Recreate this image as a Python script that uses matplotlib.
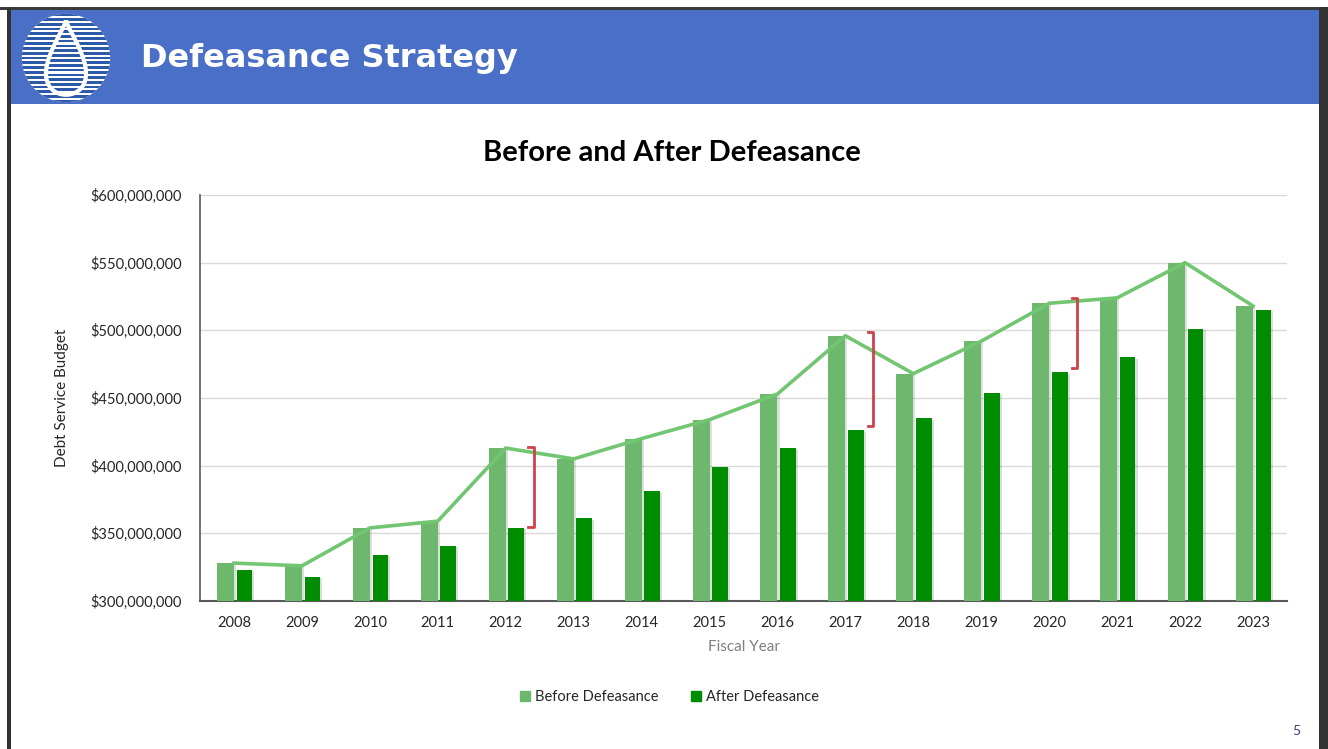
import matplotlib.pyplot as plt
import matplotlib.patheffects as pe
from matplotlib.patches import Rectangle, Circle, PathPatch
from matplotlib.path import Path
from matplotlib.ticker import FuncFormatter
import numpy as np

# data (in dollars)
years = ['2008', '2009', '2010', '2011', '2012', '2013', '2014', '2015',
         '2016', '2017', '2018', '2019', '2020', '2021', '2022', '2023']
before = [328e6, 326e6, 354e6, 359e6, 413e6, 405e6, 420e6, 434e6,
          453e6, 496e6, 468e6, 492e6, 520e6, 524e6, 550e6, 518e6]
after = [323e6, 318e6, 334e6, 341e6, 354e6, 361e6, 381e6, 399e6,
         413e6, 426e6, 435e6, 454e6, 469e6, 480e6, 501e6, 515e6]
bracket_years = ['2012', '2017', '2020']
bracket_top = [414e6, 499e6, 524e6]
bracket_bottom = [355e6, 429e6, 472e6]

before_color = '#6db86d'
after_color = '#008c00'

W, H = 1328, 749
fig = plt.figure(figsize=(W / 100, H / 100), dpi=100)
fig.patch.set_facecolor('white')


def fx(px):
    return px / W


def fy(py):
    return 1 - py / H


# slide frame + header band
fig.patches.append(Rectangle((0, fy(10)), 1, fy(7) - fy(10), transform=fig.transFigure,
                             facecolor='#3a3a3a', edgecolor='none', zorder=0))
fig.patches.append(Rectangle((fx(8), fy(104)), fx(1312), fy(10) - fy(104), transform=fig.transFigure,
                             facecolor='#4a6fc6', edgecolor='none', zorder=1))
fig.patches.append(Rectangle((fx(7), 0), fx(4), fy(7), transform=fig.transFigure,
                             facecolor='#333333', edgecolor='none', zorder=2))
fig.patches.append(Rectangle((fx(1319), 0), fx(9), fy(7), transform=fig.transFigure,
                             facecolor='#333333', edgecolor='none', zorder=2))

fig.text(fx(141), fy(59), 'Defeasance Strategy', color='white', fontsize=23,
         fontweight='bold', family='DejaVu Sans', va='center', ha='left')

# logo: striped circle with a drop
lax = fig.add_axes([fx(18), fy(104), fx(96), fy(12) - fy(104)])
lax.set_zorder(5)
lax.set_xlim(-1, 1)
lax.set_ylim(-1, 1)
lax.set_aspect('equal')
lax.axis('off')
circ = Circle((0, 0), 0.96, facecolor='white', edgecolor='none')
lax.add_patch(circ)
for k in range(-9, 10):
    r = lax.add_patch(Rectangle((-1, k * 0.105 - 0.032), 2, 0.064, facecolor='#2c5aa8', edgecolor='none'))
    r.set_clip_path(circ)
t = np.linspace(0, 2 * np.pi, 100)
drop = Path(np.column_stack([0.62 * np.sin(t) * np.sin(t / 2) ** 1.5,
                             0.82 - 1.62 * np.sin(t / 2) ** 2]), closed=True)
dp = lax.add_patch(PathPatch(drop, facecolor='white', edgecolor='none'))
for k in range(-9, 10):
    r = lax.add_patch(Rectangle((-1, k * 0.105 + 0.052 - 0.03), 2, 0.06, facecolor='#2c5aa8', edgecolor='none'))
    r.set_clip_path(dp)
lax.add_patch(PathPatch(drop, facecolor='none', edgecolor='white', lw=3))

# chart
plt.rcParams['font.family'] = ['Lato', 'DejaVu Sans']
ax = fig.add_axes([fx(200), fy(601), fx(1287) - fx(200), fy(195) - fy(601)])
x = np.arange(len(years))
shadow = [pe.SimplePatchShadow(offset=(1.5, -1), alpha=0.15), pe.Normal()]
b1 = ax.bar(x - 0.125, before, width=0.25, color=before_color, zorder=3)
b2 = ax.bar(x + 0.155, after, width=0.23, color=after_color, zorder=3)
for p in list(b1) + list(b2):
    p.set_path_effects(shadow)
ax.plot(x, before, color='#72c672', lw=2.6, zorder=4, solid_joinstyle='miter')

# red brackets showing the defeasance gap
for yr, top, bot in zip(bracket_years, bracket_top, bracket_bottom):
    bx = years.index(yr) + 0.41
    ax.plot([bx - 0.08, bx, bx, bx - 0.08], [top, top, bot, bot],
            color='#d0424b', lw=2, zorder=5, solid_joinstyle='round')

ax.set_xlim(-0.5, len(years) - 0.5)
ax.set_ylim(300e6, 600e6)
ax.set_yticks(np.arange(300e6, 600e6 + 1, 50e6))
ax.yaxis.set_major_formatter(FuncFormatter(lambda v, p: '${:,.0f}'.format(v)))
ax.set_xticks(x)
ax.set_xticklabels(years)
ax.tick_params(axis='both', length=0, labelsize=10.5, labelcolor='#262626')
ax.tick_params(axis='x', pad=11)
ax.tick_params(axis='y', pad=13)
ax.grid(axis='y', color='#d9d9d9', lw=1, zorder=0)
ax.set_axisbelow(True)
for s in ['top', 'right']:
    ax.spines[s].set_visible(False)
ax.spines['left'].set_color('#595959')
ax.spines['bottom'].set_color('#595959')
ax.spines['left'].set_linewidth(1.2)
ax.spines['bottom'].set_linewidth(1.5)

ax.set_ylabel('Debt Service Budget', fontsize=11, color='#262626', labelpad=15)
ax.set_xlabel('Fiscal Year', fontsize=11, color='#808080', labelpad=7)
fig.text(fx(672), fy(153), 'Before and After Defeasance', fontsize=21, fontweight='bold',
         color='black', ha='center', va='center')

handles = [Rectangle((0, 0), 1, 1, color=before_color), Rectangle((0, 0), 1, 1, color=after_color)]
ax.legend(handles, ['Before Defeasance', 'After Defeasance'], loc='center',
          bbox_to_anchor=(0.432, -0.237), ncol=2, frameon=False,
          fontsize=10.5, handlelength=0.7, handleheight=0.7, handletextpad=0.35, columnspacing=2.2,
          labelcolor='#262626')

fig.text(fx(1296), fy(731), '5', fontsize=10, color='#3a3f7a', ha='center', va='center')

fig.savefig('out.png', dpi=100)
